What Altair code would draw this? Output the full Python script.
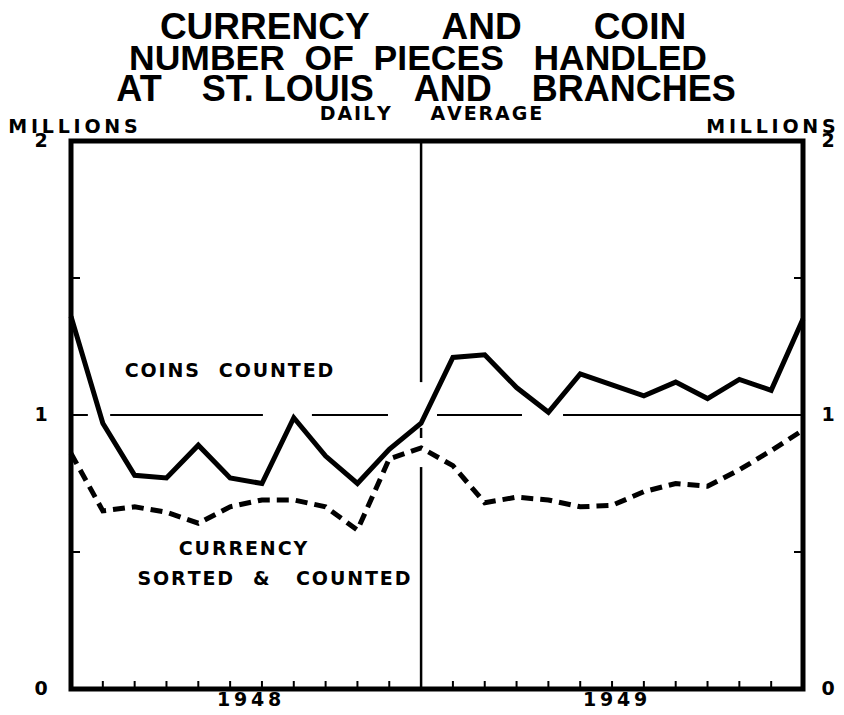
import altair as alt
import pandas as pd

# ---------------- data ----------------
months = list(range(24))  # Jan 1948 ... Dec 1949 (index)
coins = [1.36, 0.97, 0.78, 0.77, 0.89, 0.77, 0.75, 0.99, 0.85, 0.75, 0.875, 0.97,
         1.21, 1.22, 1.10, 1.01, 1.15, 1.11, 1.07, 1.12, 1.06, 1.13, 1.09, 1.35]
currency = [0.86, 0.65, 0.665, 0.645, 0.605, 0.665, 0.69, 0.69, 0.665, 0.58, 0.84, 0.88,
            0.815, 0.68, 0.70, 0.69, 0.665, 0.67, 0.72, 0.75, 0.74, 0.80, 0.87, 0.945]
tick_months = [1, 2, 3, 4, 5, 6, 7, 8, 9, 10, 12, 13, 14, 15, 16, 17, 18, 19, 20, 21, 22]
side_ticks = [0.5, 1.5]
y_label_values = [0, 1, 2]
y_label_text = ["0", "1", "2"]
year_positions = [5.6, 17.1]
year_labels = ["1948", "1949"]
ref_level = 1.0
ref_starts = [0.0, 1.23, 7.57, 11.5, 15.46]
ref_ends = [0.53, 6.03, 9.96, 14.17, 23.0]
divider_month = 11
divider_top = [2.0, 0.953, 0.81]
divider_bottom = [1.12, 0.916, 0.0]

NB = "\u00a0"   # word gap
HS = "\u200a"   # hair space used as letter spacing


def spaced(word, n=1):
    return (HS * n).join(word)


def words(ws, gap, n=1):
    return (NB * gap).join(spaced(w, n) for w in ws)


title_lines = ["CURRENCY" + NB * 7 + "AND" + NB * 7 + "COIN",
               "NUMBER" + NB * 2 + "OF" + NB * 2 + "PIECES" + NB * 3 + "HANDLED",
               "AT" + NB * 4 + "ST." + NB + "LOUIS" + NB * 4 + "AND" + NB * 4 + "BRANCHES"]
subtitle = words(["DAILY", "AVERAGE"], 6)
unit_label = spaced("MILLIONS", 2)
coins_label = words(["COINS", "COUNTED"], 3)
currency_label_1 = spaced("CURRENCY")
currency_label_2 = spaced("SORTED") + NB * 3 + "&" + NB * 4 + spaced("COUNTED")

# ---------------- tables ----------------
lines_df = pd.DataFrame({"month": months, "coins": coins, "currency": currency})
ticks_df = pd.DataFrame({"month": tick_months})
side_df = pd.DataFrame({"v": side_ticks})
ylab_df = pd.DataFrame({"v": y_label_values, "t": y_label_text})
year_df = pd.DataFrame({"month": year_positions, "t": [spaced(y, 2) for y in year_labels]})
ref_df = pd.DataFrame({"x0": ref_starts, "x1": ref_ends, "level": [ref_level] * len(ref_starts)})
div_df = pd.DataFrame({"month": [divider_month] * 3, "y0": divider_top, "y1": divider_bottom})

W, H = 732, 548
BOLD = "DejaVu Sans"
TITLE_FONT = "'Liberation Sans Narrow', 'Liberation Sans', sans-serif"

xs = alt.Scale(domain=[0, 23], nice=False, zero=False)
ys = alt.Scale(domain=[0, 2], nice=False, zero=True)

X = lambda f: alt.X(f, scale=xs, axis=None)
Y = lambda f: alt.Y(f, scale=ys, axis=None)

base = alt.Chart(lines_df)

coins_line = base.mark_line(color="black", strokeWidth=5, strokeJoin="miter").encode(
    x=X("month:Q"), y=Y("coins:Q"),
)
currency_line = base.mark_line(color="black", strokeWidth=5, strokeDash=[12, 7]).encode(
    x=X("month:Q"), y=Y("currency:Q"),
)

ref_rule = alt.Chart(ref_df).mark_rule(color="black", strokeWidth=2).encode(
    x=X("x0:Q"), x2="x1:Q", y=Y("level:Q"),
)
div_rule = alt.Chart(div_df).mark_rule(color="black", strokeWidth=2.5).encode(
    x=X("month:Q"), y=Y("y0:Q"), y2="y1:Q",
)
bottom_ticks = alt.Chart(ticks_df).mark_rule(color="black", strokeWidth=2).encode(
    x=X("month:Q"), y=alt.value(H - 8), y2=alt.value(H),
)
left_ticks = alt.Chart(side_df).mark_rule(color="black", strokeWidth=2).encode(
    y=Y("v:Q"), x=alt.value(0), x2=alt.value(9),
)
right_ticks = alt.Chart(side_df).mark_rule(color="black", strokeWidth=2).encode(
    y=Y("v:Q"), x=alt.value(W - 9), x2=alt.value(W),
)

label_style = dict(font=BOLD, fontWeight="bold", fontSize=19, color="black")
left_labels = alt.Chart(ylab_df).mark_text(align="center", baseline="middle", **label_style).encode(
    y=Y("v:Q"), x=alt.value(-30), text="t:N",
)
right_labels = alt.Chart(ylab_df).mark_text(align="center", baseline="middle", **label_style).encode(
    y=Y("v:Q"), x=alt.value(W + 25), text="t:N",
)
year_text = alt.Chart(year_df).mark_text(align="center", baseline="alphabetic", **label_style).encode(
    x=X("month:Q"), y=alt.value(H + 17), text="t:N",
)


def label(text, x, y, size, font=BOLD, weight="bold"):
    return alt.Chart(pd.DataFrame({"t": [text]})).mark_text(
        font=font, fontWeight=weight, fontSize=size, color="black",
        align="center", baseline="middle",
    ).encode(text="t:N", x=alt.value(x), y=alt.value(y))


texts = [
    label(title_lines[0], 352, -113, 37, TITLE_FONT, "bold"),
    label(title_lines[1], 347, -82, 35.5, TITLE_FONT, "bold"),
    label(title_lines[2], 355, -51, 36, TITLE_FONT, "bold"),
    label(subtitle, 360, -27, 19, BOLD, "bold"),
    label(unit_label, 2, -14, 19, BOLD, "bold"),
    label(unit_label, 700, -14, 19, BOLD, "bold"),
    label(coins_label, 158, 230, 19, BOLD, "bold"),
    label(currency_label_1, 172, 408, 19, BOLD, "bold"),
    label(currency_label_2, 203, 438, 19, BOLD, "bold"),
]

chart = alt.layer(
    ref_rule, div_rule, bottom_ticks, left_ticks, right_ticks,
    coins_line, currency_line, left_labels, right_labels, year_text, *texts
).properties(
    width=W, height=H,
    autosize=alt.AutoSizeParams(type="none"),
    padding={"left": 63, "top": 133, "right": 33, "bottom": 18},
    background="white",
).configure_view(stroke="black", strokeWidth=5)

chart.save("out.html", embed_options={"renderer": "svg", "actions": False})
